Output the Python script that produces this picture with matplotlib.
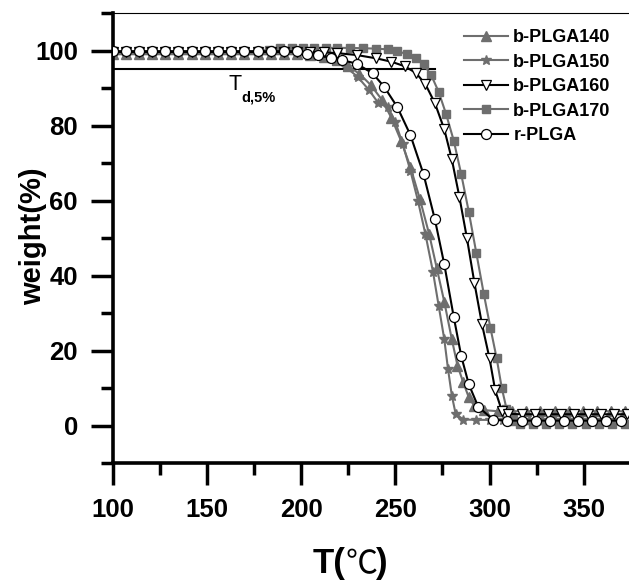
import matplotlib
matplotlib.use("Agg")
import matplotlib.pyplot as plt
from matplotlib.ticker import MultipleLocator

# ---------------- data ----------------
flat_T = [100, 107, 114, 121, 128, 135, 142, 149, 156, 163, 170, 177, 184, 191, 198]

p140_T = flat_T + [205, 212, 219, 225, 231, 237, 243, 248, 253, 258, 263, 268, 272, 276, 280,
                   283, 286, 289, 292, 297, 304.5, 312, 319.5, 327, 334.5, 342, 349.5, 357, 364.5, 372]
p140_W = [99.0] * 15 + [98.8, 98.4, 97.4, 95.8, 93.8, 90.8, 86.8, 82, 76, 69, 60.5, 51, 42, 33, 23,
                        16, 11.6, 7.5, 5.2, 4.1, 3.8, 3.8, 3.8, 3.8, 3.8, 3.8, 3.8, 3.8, 3.8, 3.8]

p150_T = flat_T + [205, 212, 218, 224, 230, 236, 241, 246, 250, 254, 258, 262, 266, 270, 273,
                   276, 278, 280, 282, 286, 293, 300, 307, 314, 321, 328, 335, 342, 349, 356, 363, 370]
p150_W = [99.3] * 15 + [99.0, 98.4, 97.2, 95.5, 93.0, 89.5, 86, 85, 81, 75, 68, 60, 51, 41, 32,
                        23, 15, 8, 3.2, 1.6, 1.5, 1.5, 1.5, 1.5, 1.5, 1.5, 1.5, 1.5, 1.5, 1.5, 1.5, 1.5]

p160_T = flat_T + [205, 212, 219, 229.5, 240, 248, 255, 261, 266, 271, 276, 280, 284, 288, 292,
                   296, 300, 303, 306.5, 310, 317, 324, 331, 338, 345, 352, 359, 366, 373]
p160_W = [99.6] * 15 + [99.6, 99.5, 99.3, 98.8, 97.9, 97.0, 95.8, 94.0, 91.0, 86, 79, 71, 61, 50, 38,
                        27, 17.9, 9.4, 4.0, 3.1, 3.0, 3.0, 3.0, 3.0, 3.0, 3.0, 3.0, 3.0, 3.0]

p170_T = [100, 107, 114, 121, 128, 135, 142, 149, 156, 163, 170, 177, 183, 189, 195,
          201, 207, 213, 219, 226, 233, 240, 246, 251, 256, 261, 265, 269, 273, 277, 281,
          285, 289, 293, 297, 300.5, 303.8, 306.5, 309, 312, 316, 323, 330, 337, 344, 351, 358, 365, 372]
p170_W = [99.8] * 12 + [100.2, 100.6, 100.7,
                        100.7, 100.7, 100.7, 100.7, 100.7, 100.6, 100.5, 100.3, 99.8, 99.1, 98.0, 96.3, 93.5, 89, 83, 76,
                        67, 57, 46, 35, 26, 17.9, 10, 4.5, 1.2, 0.4, 0.3, 0.3, 0.3, 0.3, 0.3, 0.3, 0.3, 0.3]

r_T = flat_T + [203, 209, 216, 222, 229.5, 238, 244, 251, 258, 265, 271, 276, 281, 285, 289,
                294, 302, 309.5, 317, 324.5, 332, 339.5, 347, 354.5, 362, 369.5]
r_W = [99.8] * 15 + [99.2, 98.8, 98.0, 97.4, 96.5, 93.9, 90.4, 85.0, 77.5, 67, 55, 43, 29, 18.5, 11,
                     5, 1.5, 1.3, 1.3, 1.3, 1.3, 1.3, 1.3, 1.3, 1.3, 1.3]

labels = ["b-PLGA140", "b-PLGA150", "b-PLGA160", "b-PLGA170", "r-PLGA"]
td_level = 95
td_end = 271

x_ticks = [100, 150, 200, 250, 300, 350]
y_ticks = [0, 20, 40, 60, 80, 100]

# ---------------- figure ----------------
plt.rcParams['font.family'] = ['Liberation Sans', 'DejaVu Sans']
GRAY = '#6e6e6e'

fig = plt.figure(figsize=(6.29, 5.84), dpi=100)
ax = fig.add_axes([112.5 / 629, (584 - 463) / 584, 518.4 / 629, (463 - 13) / 584])

ax.plot([100, td_end], [td_level, td_level], color='black', lw=1.5, zorder=1)

LW = 1.5
ax.plot(p140_T, p140_W, color=GRAY, lw=LW, marker='^', ms=7, mfc=GRAY, mec=GRAY, label=labels[0], zorder=2)
ax.plot(p150_T, p150_W, color=GRAY, lw=LW, marker='*', ms=7.5, mfc=GRAY, mec=GRAY, label=labels[1], zorder=2)
ax.plot(p160_T, p160_W, color='black', lw=LW, marker='v', ms=7.5, mfc='white', mec='black', mew=0.9, label=labels[2], zorder=3)
ax.plot(p170_T, p170_W, color=GRAY, lw=LW, marker='s', ms=5.8, mfc=GRAY, mec=GRAY, label=labels[3], zorder=2)
ax.plot(r_T, r_W, color='black', lw=LW, marker='o', ms=7.2, mfc='white', mec='black', mew=0.9, label=labels[4], zorder=4)

ax.set_xlim(100, 375)
ax.set_ylim(-10, 110)
ax.set_xticks(x_ticks)
ax.set_yticks(y_ticks)
ax.xaxis.set_minor_locator(MultipleLocator(25))
ax.set_yticks([-10, 10, 30, 50, 70, 90, 110], minor=True)

for s in ['left', 'bottom']:
    ax.spines[s].set_linewidth(2.6)
ax.spines['top'].set_linewidth(0.8)
ax.spines['right'].set_visible(False)

ax.tick_params(which='major', direction='out', length=16, width=2.5, labelsize=18.5, pad=9)
ax.tick_params(which='minor', direction='out', length=8.5, width=2.5)
ax.tick_params(top=False, right=False, which='both')
for lab in ax.get_xticklabels() + ax.get_yticklabels():
    lab.set_fontweight('bold')

ax.text(165, 90.8, "T", fontsize=15.5, ha='center', va='center')
ax.text(168.5, 87.6, "d,5%", fontsize=10.5, fontweight='bold', ha='left', va='center')

fig.text(33 / 629, 1 - 236 / 584, "weight(%)", rotation=90, fontsize=21, fontweight='bold',
         ha='center', va='center')
yl = 1 - 564 / 584
fig.text(345 / 629, yl, "T(", fontsize=25, fontweight='bold', ha='right', va='center')
fig.text(345 / 629, yl, "\u2103", fontsize=23, ha='left', va='center',
         family=['Noto Sans CJK SC', 'DejaVu Sans'])
fig.text(376 / 629, yl, ")", fontsize=25, fontweight='bold', ha='left', va='center')

leg = ax.legend(loc='upper left', bbox_to_anchor=(464 / 629, 1 - 29 / 584), bbox_transform=fig.transFigure,
                frameon=False, handlelength=2.45, handletextpad=0.28, labelspacing=0.42,
                borderpad=0, borderaxespad=0, prop={'weight': 'bold', 'size': 13})

fig.savefig("out.png", dpi=100)
